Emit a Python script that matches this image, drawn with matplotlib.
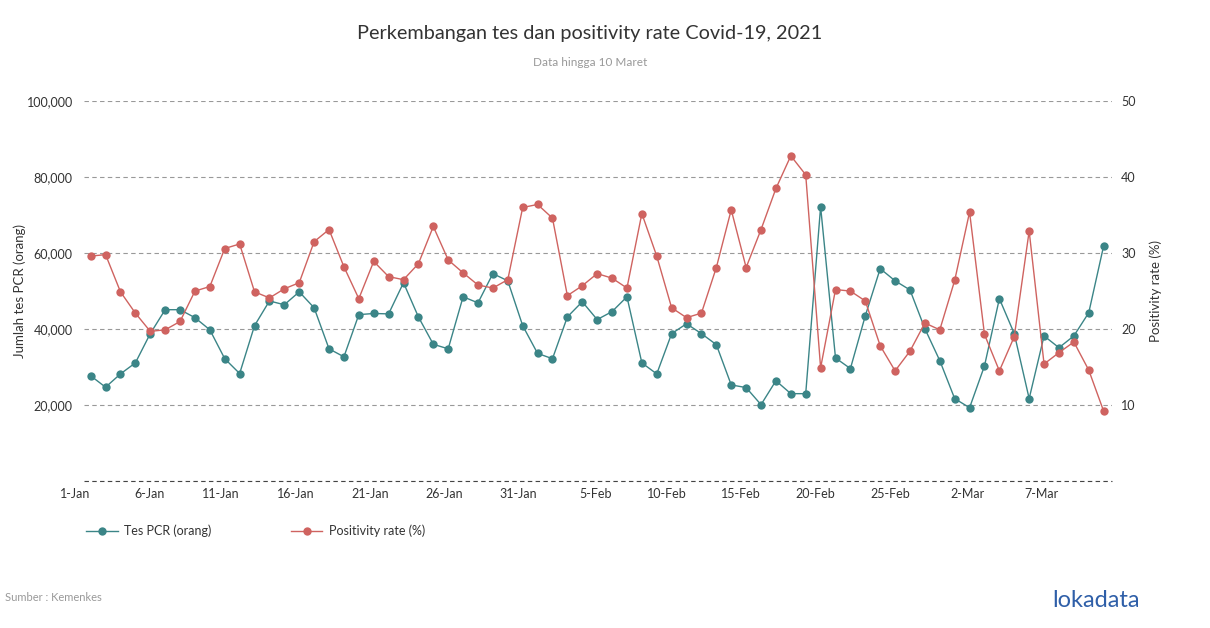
import matplotlib

matplotlib.use("Agg")
import matplotlib.pyplot as plt
import pandas as pd

plt.rcParams["font.family"] = ["Lato", "DejaVu Sans"]

# data, 1 Jan - 10 Mar 2021
dates = pd.date_range("2021-01-01", "2021-03-10", freq="D")

tes_pcr = [
    27.7, 24.7, 28.2, 31.1, 38.8, 45.1, 45.1, 43.0, 39.8, 32.2,
    28.3, 40.9, 47.4, 46.4, 49.8, 45.6, 34.8, 32.7, 43.8, 44.1,
    44.0, 52.2, 43.2, 36.0, 34.8, 48.5, 46.9, 54.6, 52.7, 40.9,
    33.6, 32.2, 43.2, 47.2, 42.5, 44.6, 48.5, 31.1, 28.2, 38.8,
    41.4, 38.8, 35.9, 25.3, 24.6, 20.1, 26.4, 23.0, 23.0, 72.2,
    32.4, 29.6, 43.5, 55.9, 52.7, 50.3, 40.1, 31.7, 21.7, 19.3,
    30.3, 48.0, 38.8, 21.7, 38.2, 35.1, 38.2, 44.3, 61.9,
]
tes_pcr = [v * 1000 for v in tes_pcr]

positivity = [
    29.6, 29.8, 24.9, 22.1, 19.7, 19.9, 21.0, 25.0, 25.6, 30.6,
    31.2, 24.9, 24.1, 25.3, 26.1, 31.5, 33.1, 28.2, 24.0, 28.9,
    26.9, 26.5, 28.6, 33.5, 29.1, 27.4, 25.8, 25.4, 26.5, 36.0,
    36.4, 34.6, 24.4, 25.7, 27.3, 26.7, 25.4, 35.2, 29.6, 22.8,
    21.5, 22.1, 28.1, 35.7, 28.1, 33.1, 38.5, 42.8, 40.3, 14.9,
    25.2, 25.0, 23.7, 17.8, 14.5, 17.1, 20.8, 19.9, 26.4, 35.4,
    19.3, 14.5, 19.0, 32.9, 15.4, 16.9, 18.3, 14.6, 9.2,
]

left_ticks = [0, 20000, 40000, 60000, 80000, 100000]
left_labels = ["", "20,000", "40,000", "60,000", "80,000", "100,000"]
right_ticks = [0, 10, 20, 30, 40, 50]
right_labels = ["", "10", "20", "30", "40", "50"]

TEAL = "#3b8587"
RED = "#cf6360"
TXT = "#333333"
GRID = "#999999"

fig = plt.figure(figsize=(12.1, 6.28), dpi=100, facecolor="white")
ax = fig.add_axes([0.0694, 0.234, 0.8496, 0.605])
ax2 = ax.twinx()

ax.plot(dates, tes_pcr, color=TEAL, linewidth=1, marker="o", markersize=6,
        markeredgewidth=0, label="Tes PCR (orang)", zorder=3)
ax2.plot(dates, positivity, color=RED, linewidth=1, marker="o", markersize=6,
         markeredgewidth=0, label="Positivity rate (%)", zorder=3)

day = pd.Timedelta(days=1)
ax.set_xlim(dates[0] - 0.45 * day, dates[-1] + 0.56 * day)
ax.set_ylim(0, 100000)
ax2.set_ylim(0, 50)

ax.set_yticks(left_ticks)
ax.set_yticklabels(left_labels)
ax2.set_yticks(right_ticks)
ax2.set_yticklabels(right_labels)

# labels sit to the left of their tick, as in the source chart
xt = dates[::5]
ax.set_xticks(xt)
ax.set_xticklabels([f"{d.day}-{d.strftime('%b')}" for d in xt], ha="right")

for a in (ax, ax2):
    for spine in a.spines.values():
        spine.set_visible(False)
    a.tick_params(length=0, labelsize=9, colors=TXT)
ax.tick_params(axis="x", pad=5)
ax.tick_params(axis="y", pad=8)
ax2.tick_params(axis="y", pad=6.5)

ax.grid(axis="y", linestyle=(0, (4, 3)), color=GRID, linewidth=0.8)
ax.axhline(0, linestyle=(0, (4, 3)), color="#444444", linewidth=0.8, clip_on=False)
ax.set_axisbelow(True)

ax.set_ylabel("Jumlah tes PCR (orang)", fontsize=9.5, color=TXT)
ax.yaxis.set_label_coords(-0.056, 0.5)
ax2.set_ylabel("Positivity rate (%)", fontsize=9.5, color=TXT)
ax2.yaxis.set_label_coords(1.036, 0.5)

fig.text(0.4876, 0.947, "Perkembangan tes dan positivity rate Covid-19, 2021",
         ha="center", va="center", fontsize=14.3, color=TXT)
fig.text(0.4876, 0.900, "Data hingga 10 Maret", ha="center", va="center",
         fontsize=8.5, color="#999999")

handles = ax.get_lines()[:1] + ax2.get_lines()[:1]
fig.legend(handles, [h.get_label() for h in handles], loc="center left",
           bbox_to_anchor=(0.062, 0.155), ncol=2, frameon=False,
           fontsize=9, columnspacing=6.4, handlelength=2.5, handletextpad=0.5,
           labelcolor=TXT)

fig.text(0.004, 0.048, "Sumber : Kemenkes", ha="left", va="center",
         fontsize=8, color="#999999")
fig.text(0.942, 0.044, "lokadata", ha="right", va="center",
         fontsize=17, color="#2f5fa8")

fig.savefig("out.png", dpi=100, facecolor="white")
